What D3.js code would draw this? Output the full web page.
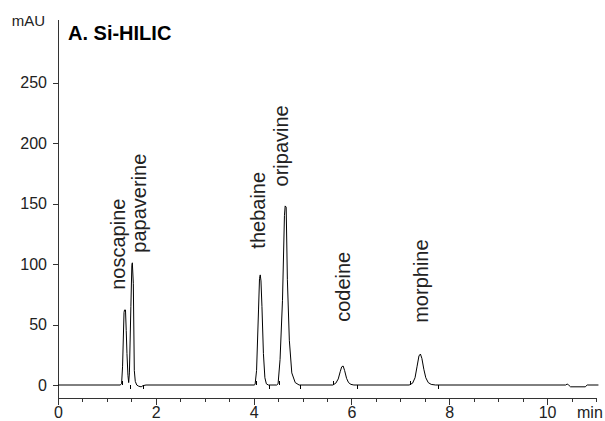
<!DOCTYPE html>
<html>
  <head>
    <meta charset="utf-8">
    <title>Si-HILIC chromatogram</title>
    <style>
      body {
        overflow: hidden;
        margin: 0px;
        background-color: white;
      }

      text {
        font-family: "Liberation Sans", Arial, sans-serif;
        fill: #222;
      }

      .axis path, .axis line {
        stroke: #333;
        stroke-width: 1px;
        shape-rendering: crispEdges;
      }

      .axis text {
        font-size: 16px;
        fill: #222;
        font-family: "Liberation Sans", Arial, sans-serif;
      }

      .trace {
        fill: none;
        stroke: black;
        stroke-width: 1px;
      }

      .mark {
        stroke: black;
        stroke-width: 1px;
        shape-rendering: crispEdges;
      }

      .title {
        font-size: 20px;
        font-weight: bold;
        fill: black;
      }

      .unit {
        font-size: 15px;
      }

      .compound {
        font-size: 20px;
      }
    </style>
  </head>
  <body>
    <svg id="container" width="605" height="421"></svg>
    <script src="https://cdn.jsdelivr.net/npm/d3@7/dist/d3.min.js"></script>

    <script type="text/javascript">
      // detector trace: [time (min), signal (mAU)]
      var trace = [
        [0, 0], [1.27, 0], [1.30, 1], [1.32, 15], [1.35, 60], [1.36, 62], [1.38, 62],
        [1.395, 45], [1.41, 26], [1.43, 8], [1.445, 2], [1.46, 10], [1.49, 65],
        [1.51, 99], [1.52, 101], [1.54, 84], [1.56, 12], [1.58, 3], [1.61, 0],
        [1.65, -1], [1.70, -1.5], [1.74, -0.5], [1.80, 0],
        [4.01, 0], [4.03, 0.5], [4.06, 12], [4.10, 62], [4.12, 88], [4.135, 91],
        [4.15, 86], [4.17, 65], [4.20, 26], [4.23, 6], [4.26, 1], [4.30, 0],
        [4.47, 0], [4.50, 1], [4.54, 21], [4.59, 70], [4.63, 140], [4.645, 148],
        [4.665, 147], [4.69, 87], [4.73, 37], [4.78, 10], [4.85, 2], [4.93, 0],
        [5.62, 0], [5.68, 1.5], [5.73, 5], [5.77, 11], [5.80, 15], [5.83, 15.7],
        [5.86, 12], [5.90, 5.5], [5.94, 2], [5.99, 0.5], [6.05, 0],
        [7.18, 0], [7.25, 1.5], [7.30, 6], [7.34, 15], [7.38, 24], [7.41, 25.6],
        [7.44, 22], [7.48, 13], [7.52, 6], [7.57, 2], [7.63, 0.5], [7.72, 0],
        [10.38, 0], [10.41, 0.8], [10.44, 0], [10.48, -1.5], [10.78, -1.5],
        [10.82, 0], [11.05, 0]
      ];

      // integration marks at the peak boundaries (min)
      var peakStarts = [1.31, 4.05, 4.52, 5.62, 7.19];
      var peakEnds = [1.47, 1.73, 4.32, 4.95, 6.11, 7.77];

      // compound labels, anchored at (time, mAU)
      var compounds = ['noscapine', 'papaverine', 'thebaine', 'oripavine', 'codeine', 'morphine'];
      var compoundTimes = [1.37, 1.80, 4.23, 4.70, 5.97, 7.57];
      var compoundLevels = [78.7, 109.4, 112.7, 164.1, 52.2, 51.4];

      var yTicks = [0, 50, 100, 150, 200, 250];
      var xMajorTicks = [0, 2, 4, 6, 8, 10];
      var xMinorTicks = [0, 0.5, 1, 1.5, 2, 2.5, 3, 3.5, 4, 4.5, 5, 5.5, 6, 6.5,
        7, 7.5, 8, 8.5, 9, 9.5, 10, 10.5, 11];

      var width = 605,
        height = 421,
        axisY = 398,
        container = d3.select('#container');

      container.attr('width', width)
        .attr('height', height);

      var x = d3.scaleLinear().domain([0, 11]).range([58, 596]);
      var y = d3.scaleLinear().domain([0, 302]).range([385, 19.6]);

      /*
        Axes
      */
      container.append('g')
        .attr('class', 'axis')
        .attr('transform', 'translate(' + x(0) + ',0)')
        .call(d3.axisLeft(y).tickValues(yTicks).tickSize(5).tickPadding(6))
        .call(function (g) { g.select('.domain').remove(); });

      container.append('line')
        .attr('class', 'axis-line')
        .attr('x1', x(0)).attr('x2', x(0))
        .attr('y1', y(302)).attr('y2', axisY)
        .attr('stroke', '#333')
        .attr('shape-rendering', 'crispEdges');

      container.append('g')
        .attr('class', 'axis')
        .attr('transform', 'translate(0,' + axisY + ')')
        .call(d3.axisBottom(x).tickValues(xMinorTicks).tickSize(4).tickSizeOuter(0).tickFormat(''));

      container.append('g')
        .attr('class', 'axis')
        .attr('transform', 'translate(0,' + axisY + ')')
        .call(d3.axisBottom(x).tickValues(xMajorTicks).tickSize(7).tickSizeOuter(0).tickPadding(2))
        .call(function (g) { g.select('.domain').remove(); });

      container.append('text')
        .attr('class', 'unit')
        .attr('x', 45)
        .attr('y', 26)
        .attr('text-anchor', 'end')
        .text('mAU');

      container.append('text')
        .attr('class', 'unit')
        .attr('x', 577)
        .attr('y', 418)
        .style('font-size', '16px')
        .text('min');

      container.append('text')
        .attr('class', 'title')
        .attr('x', 68)
        .attr('y', 39.5)
        .text('A. Si-HILIC');

      /*
        Chromatogram
      */
      var line = d3.line()
        .x(function (d) { return x(d[0]); })
        .y(function (d) { return y(d[1]); });

      container.append('path')
        .datum(trace)
        .attr('class', 'trace')
        .attr('d', line);

      container.selectAll('.mark.start')
        .data(peakStarts)
        .enter().append('line')
        .attr('class', 'mark start')
        .attr('x1', function (d) { return Math.round(x(d)) + 0.5; })
        .attr('x2', function (d) { return Math.round(x(d)) + 0.5; })
        .attr('y1', y(0))
        .attr('y2', y(0) - 4);

      container.selectAll('.mark.end')
        .data(peakEnds)
        .enter().append('line')
        .attr('class', 'mark end')
        .attr('x1', function (d) { return Math.round(x(d)) + 0.5; })
        .attr('x2', function (d) { return Math.round(x(d)) + 0.5; })
        .attr('y1', y(0))
        .attr('y2', y(0) + 4);

      /*
        Peak labels
      */
      container.selectAll('.compound')
        .data(compounds)
        .enter().append('text')
        .attr('class', 'compound')
        .attr('transform', function (d, i) {
          return 'translate(' + x(compoundTimes[i]) + ',' + y(compoundLevels[i]) + ') rotate(-90)';
        })
        .text(function (d) { return d; });
    </script>
  </body>
</html>
